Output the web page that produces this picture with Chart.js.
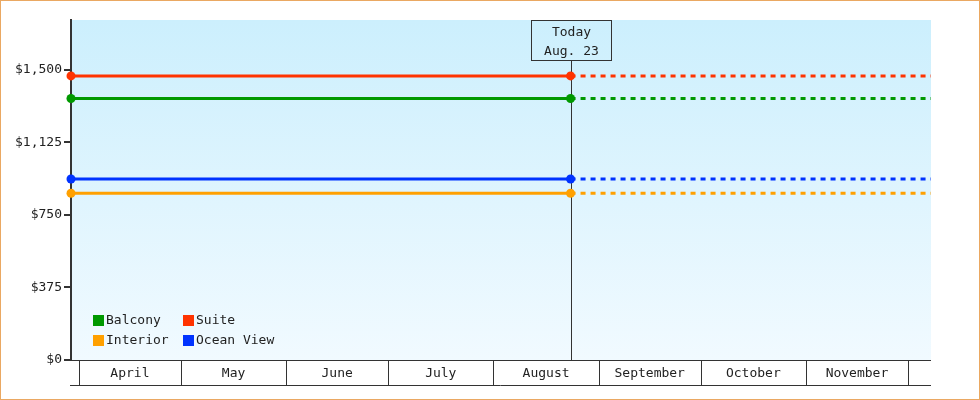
<!DOCTYPE html>
<html>
<head>
<meta charset="utf-8">
<script src="https://cdn.jsdelivr.net/npm/chart.js@4/dist/chart.umd.min.js"></script>
<style>
  body { margin: 0; background: #fff; }
  #wrap { position: relative; width: 980px; height: 400px; }
  canvas { display: block; background: #fff; }
</style>
</head>
<body>
<div id="wrap"><canvas id="priceChart" width="980" height="400"></canvas></div>
<script>
// days counted from April 1
const months = ["April", "May", "June", "July", "August", "September", "October", "November"];
const monthStarts = [0, 30, 61, 91, 122, 153, 183, 214, 244];
const days = [-2.35, 144.7, 250.8];
const todayDay = 144.7;
const todayLabel = ["Today", "Aug. 23"];

const yTicks = [0, 375, 750, 1125, 1500];

const balcony = [1352, 1352, 1352];
const interior = [862, 862, 862];
const suite = [1469, 1469, 1469];
const oceanView = [936, 936, 936];

const FONT = '"DejaVu Sans Mono", monospace';
const INK = "#333";

function series(label, values, color) {
  return {
    label,
    data: values.map((v, i) => ({ x: days[i], y: v })),
    borderColor: color,
    backgroundColor: color,
    borderWidth: 3,
    pointRadius: [4.5, 4.5, 0],
    pointHoverRadius: 0,
    pointBorderWidth: 0,
    clip: false,
    segment: {
      borderDash: (ctx) => (ctx.p0.parsed.x >= todayDay ? [5, 5] : undefined),
    },
  };
}

const datasets = [
  series("Balcony", balcony, "#009900"),
  series("Interior", interior, "#ffa000"),
  series("Suite", suite, "#ff3300"),
  series("Ocean View", oceanView, "#0033ff"),
];

const decorPlugin = {
  id: "decor",
  beforeDraw(chart) {
    const { ctx, chartArea: a } = chart;
    const g = ctx.createLinearGradient(0, a.top, 0, a.bottom);
    g.addColorStop(0, "rgb(204,239,253)");
    g.addColorStop(1, "rgb(241,250,255)");
    ctx.save();
    ctx.fillStyle = g;
    ctx.fillRect(a.left, a.top, a.right - a.left, a.bottom - a.top);
    ctx.restore();
  },
  beforeDatasetsDraw(chart) {
    const { ctx, chartArea: a } = chart;
    const x = Math.round(chart.scales.x.getPixelForValue(todayDay)) + 0.5;
    ctx.save();
    ctx.strokeStyle = INK;
    ctx.lineWidth = 1;
    ctx.beginPath();
    ctx.moveTo(x, a.top + 40);
    ctx.lineTo(x, a.bottom);
    ctx.stroke();
    ctx.restore();
  },
  afterDraw(chart) {
    const { ctx, chartArea: a } = chart;
    const xs = chart.scales.x;
    ctx.save();
    ctx.font = "13px " + FONT;
    ctx.fillStyle = "#222";
    ctx.strokeStyle = INK;
    ctx.lineWidth = 1;

    // month band under the plot
    const rowTop = a.bottom + 0.5;
    const rowBot = a.bottom + 25.5;
    ctx.beginPath();
    ctx.moveTo(a.left, rowTop);
    ctx.lineTo(a.right, rowTop);
    ctx.moveTo(a.left - 1, rowBot);
    ctx.lineTo(a.right, rowBot);
    monthStarts.forEach((d) => {
      const px = Math.round(xs.getPixelForValue(d)) + 0.5;
      ctx.moveTo(px, rowTop);
      ctx.lineTo(px, rowBot);
    });
    ctx.stroke();
    ctx.textAlign = "center";
    ctx.textBaseline = "middle";
    months.forEach((m, i) => {
      const c = (xs.getPixelForValue(monthStarts[i]) + xs.getPixelForValue(monthStarts[i + 1])) / 2;
      ctx.fillText(m, c, a.bottom + 13.5);
    });

    // today box
    const tx = Math.round(xs.getPixelForValue(todayDay)) + 0.5;
    ctx.strokeRect(tx - 40, a.top + 0.5, 80, 40);
    ctx.fillText(todayLabel[0], tx, a.top + 12.5);
    ctx.fillText(todayLabel[1], tx, a.top + 31.5);

    // legend, two columns
    ctx.textAlign = "left";
    const order = [0, 2, 1, 3];
    order.forEach((di, k) => {
      const ds = chart.data.datasets[di];
      const col = k % 2;
      const row = Math.floor(k / 2);
      const lx = a.left + 22 + col * 90;
      const ly = a.bottom - 45 + row * 20;
      ctx.fillStyle = ds.borderColor;
      ctx.fillRect(lx, ly, 11, 11);
      ctx.fillStyle = "#222";
      ctx.fillText(ds.label, lx + 13, ly + 6);
    });

    // page frame
    ctx.strokeStyle = "#eaa862";
    ctx.strokeRect(0.5, 0.5, chart.width - 1, chart.height - 1);
    ctx.restore();
  },
};

new Chart(document.getElementById("priceChart"), {
  type: "line",
  data: { datasets },
  plugins: [decorPlugin],
  options: {
    responsive: false,
    animation: false,
    devicePixelRatio: 1,
    layout: { padding: { left: 0, top: 20, right: 49, bottom: 40 } },
    plugins: { legend: { display: false }, tooltip: { enabled: false } },
    scales: {
      x: {
        type: "linear",
        display: false,
        min: days[0],
        max: days[days.length - 1],
      },
      y: {
        min: 0,
        max: 1758,
        afterFit: (s) => { s.width = 71; },
        afterBuildTicks: (s) => { s.ticks = yTicks.map((v) => ({ value: v })); },
        border: { display: true, color: INK, width: 2 },
        grid: { drawOnChartArea: false, drawTicks: true, tickLength: 7, color: INK, lineWidth: 2 },
        ticks: {
          padding: 2,
          color: "#222",
          font: { family: FONT, size: 13 },
          callback: (v) => "$" + Number(v).toLocaleString("en-US"),
        },
      },
    },
  },
});
</script>
</body>
</html>
